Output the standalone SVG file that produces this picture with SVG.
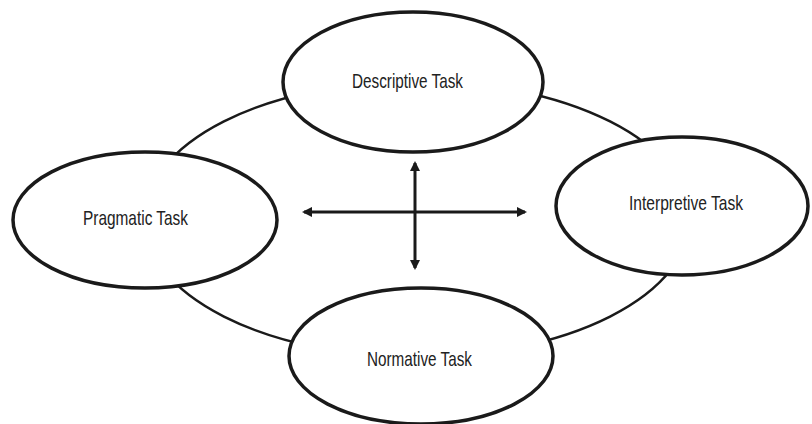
<svg xmlns="http://www.w3.org/2000/svg" width="812" height="424" viewBox="0 0 812 424">
<style>
.node{fill:#fff;stroke:#1a1a1a;stroke-width:3.5}
.ring{fill:none;stroke:#1a1a1a;stroke-width:2.5}
.arr{fill:none;stroke:#1a1a1a;stroke-width:3;marker-start:url(#ah);marker-end:url(#ah)}
.lbl{font-family:"Liberation Sans Narrow","Liberation Sans",Arial,sans-serif;font-size:21px;fill:#222;text-anchor:middle}
</style>
<defs>
<marker id="ah" viewBox="0 0 10 10" refX="8" refY="5" markerWidth="3.4" markerHeight="3.4" orient="auto-start-reverse" markerUnits="strokeWidth">
<path d="M0,0 L10,5 L0,10 Z" fill="#1a1a1a"/>
</marker>
</defs>
<rect width="812" height="424" fill="#fff"/>
<g id="connectors">
<ellipse class="ring" cx="417" cy="219" rx="273" ry="138"/>
<line class="arr" x1="415" y1="163" x2="415" y2="268"/>
<line class="arr" x1="304" y1="212" x2="525" y2="212"/>
</g>
<g id="descriptive">
<ellipse class="node" cx="413" cy="82" rx="130" ry="70"/>
<text class="lbl" x="407.5" y="87.5" textLength="111" lengthAdjust="spacingAndGlyphs">Descriptive Task</text>
</g>
<g id="pragmatic">
<ellipse class="node" cx="145" cy="220" rx="132" ry="68"/>
<text class="lbl" x="135.5" y="224.5" textLength="105" lengthAdjust="spacingAndGlyphs">Pragmatic Task</text>
</g>
<g id="interpretive">
<ellipse class="node" cx="682" cy="206" rx="126" ry="69"/>
<text class="lbl" x="686" y="209.5" textLength="114" lengthAdjust="spacingAndGlyphs">Interpretive Task</text>
</g>
<g id="normative">
<ellipse class="node" cx="421" cy="356" rx="132" ry="68"/>
<text class="lbl" x="419.5" y="365.5" textLength="105" lengthAdjust="spacingAndGlyphs">Normative Task</text>
</g>
</svg>
